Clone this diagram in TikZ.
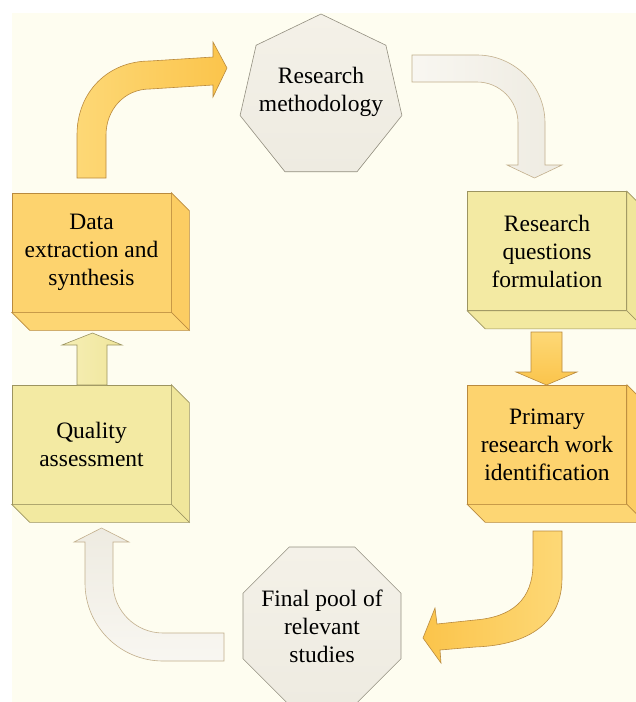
\documentclass[tikz,border=0pt]{standalone}
\usepackage{fontspec}
\setmainfont{Liberation Serif}
\usetikzlibrary{shapes.geometric,calc}

\definecolor{paper}{HTML}{FEFDF0}
\definecolor{orfront}{HTML}{FDD36E}
\definecolor{orside}{HTML}{FCCD63}
\definecolor{orbottom}{HTML}{FDD673}
\definecolor{orline}{HTML}{B98A3E}
\definecolor{yefront}{HTML}{F3EAA3}
\definecolor{yeside}{HTML}{F0E69B}
\definecolor{yebottom}{HTML}{F2E9A0}
\definecolor{yeline}{HTML}{9C9460}
\definecolor{grfill}{HTML}{F4F1E8}
\definecolor{grfilldark}{HTML}{EEEBE1}
\definecolor{grline}{HTML}{938F80}
\definecolor{paleline}{HTML}{C2AF8C}
\definecolor{orlight}{HTML}{FDD876}
\definecolor{ordeep}{HTML}{FBC44B}

\tikzset{
  label font/.style={font=\fontsize{23.5pt}{28pt}\selectfont, align=center, text=black},
  frontface/.style={rectangle, minimum width=159, minimum height=119, inner sep=0pt,
                    draw=#1, line width=0.6pt, label font},
  polyshape/.style={regular polygon, inner sep=0pt, draw=grline, line width=0.6pt,
                    top color=grfill, bottom color=grfilldark},
  orangearrow/.style={draw=orline, line width=0.6pt},
  palearrow/.style={draw=paleline, line width=0.6pt},
  yellowarrow/.style={draw=yeline, line width=0.6pt},
}

% extruded right and bottom faces of a box node: name, side colour, bottom colour, line colour
\newcommand{\extrude}[4]{%
  \filldraw[fill=#2, draw=#4, line width=0.6pt]
    (#1.north east) -- ++(18,18) -- ($(#1.south east)+(18,18)$) -- (#1.south east) -- cycle;
  \filldraw[fill=#3, draw=#4, line width=0.6pt]
    (#1.south west) -- (#1.south east) -- ++(18,18) -- ($(#1.south west)+(18,18)$) -- cycle;
}

\begin{document}
\begin{tikzpicture}[x=1pt,y=-1pt]
\useasboundingbox (0,0) rectangle (636,702);
\clip (0,0) rectangle (636,702);
\fill[paper] (12,13) rectangle (636,702);

% ---- boxes ----
\node[frontface=orline, fill=orfront] (dx) at (91.5,252.5) {Data\\extraction and\\synthesis};
\extrude{dx}{orside}{orbottom}{orline}
\node[frontface=yeline, fill=yefront] (qa) at (91.5,444.5) {Quality\\assessment};
\extrude{qa}{yeside}{yebottom}{yeline}
\node[frontface=yeline, fill=yefront] (rq) at (547,251) {Research\\questions\\formulation};
\extrude{rq}{yeside}{yebottom}{yeline}
\node[frontface=orline, fill=orfront] (pr) at (547,444.5) {Primary\\research work\\identification};
\extrude{pr}{orside}{orbottom}{orline}

% ---- polygons ----
\node[polyshape, regular polygon sides=7, minimum size=166] (rm) at (321,97) {};
\node[label font] (rmtext) at (321,92) {Research\\methodology};
\node[polyshape, regular polygon sides=8, minimum size=171] (fp) at (322,626) {};
\node[label font] (fptext) at (322,626) {Final pool of\\relevant\\studies};

% ---- block arrows ----
% data extraction -> research methodology
\path[orangearrow, left color=orlight, right color=ordeep]
  (77,178) -- (77,135) .. controls (77,92) and (108,61) .. (150,61)
  -- (213,57) -- (213,42) -- (227,68) -- (213,97) -- (213,85)
  -- (150,89) .. controls (124,89) and (106,110) .. (106,135)
  -- (106,178) -- cycle;

% research methodology -> research questions
\path[palearrow, left color=grfill!60!white, right color=grfilldark]
  (412,55) -- (477,55) .. controls (514.5,55) and (545,85.5) .. (545,123)
  -- (545,165) -- (562,165) -- (534.5,178) -- (507,165) -- (518,165)
  -- (518,123) .. controls (518,100.4) and (499.6,82) .. (477,82)
  -- (412,82) -- cycle;

% research questions -> primary research
\path[orangearrow, top color=orlight, bottom color=ordeep]
  (531,332) -- (562,332) -- (562,372) -- (577,372) -- (546.5,385)
  -- (516,372) -- (531,372) -- cycle;

% primary research -> final pool
\path[orangearrow, left color=ordeep, right color=orlight]
  (533,531) -- (562,531) -- (562,578) .. controls (562,622) and (530,645) .. (475,647)
  -- (440,650) -- (441,663) -- (423,638) -- (435,608) -- (437,624)
  -- (475,620) .. controls (512,617) and (533,600) .. (533,563) -- cycle;

% final pool -> quality assessment
\path[palearrow, top color=grfilldark, bottom color=grfill!60!white]
  (224,633) -- (163,633) .. controls (135.4,633) and (113,610.6) .. (113,583)
  -- (113,542) -- (129,542) -- (101.5,528) -- (74,542) -- (85,542)
  -- (85,583) .. controls (85,626) and (120,661) .. (163,661)
  -- (224,661) -- cycle;

% quality assessment -> data extraction
\path[yellowarrow, left color=yefront!80!white, right color=yeside]
  (77,385) -- (77,345) -- (62,345) -- (92.5,333) -- (122,345) -- (107,345)
  -- (107,385) -- cycle;

\end{tikzpicture}
\end{document}
